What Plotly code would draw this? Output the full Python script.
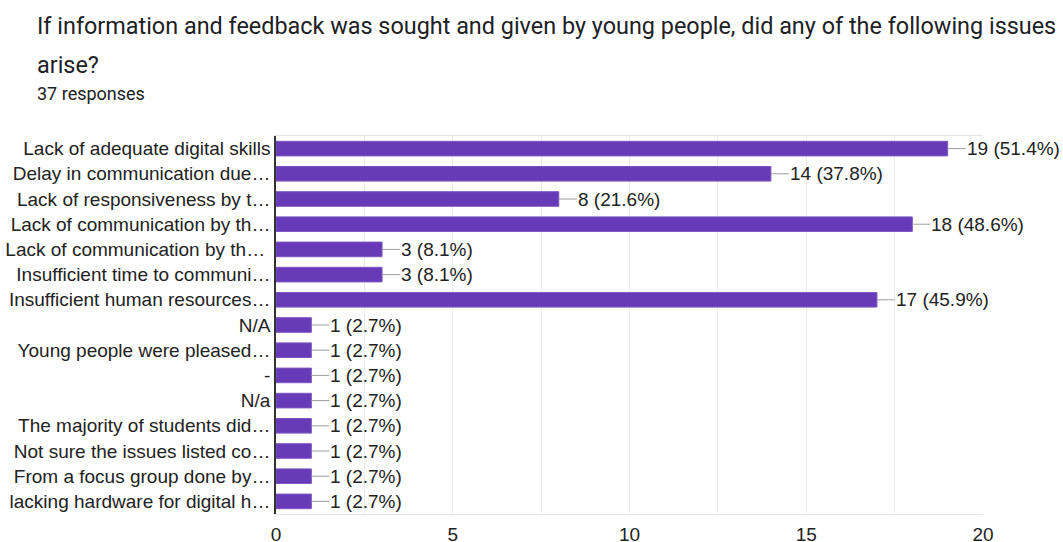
import plotly.graph_objects as go

categories = [
    "Lack of adequate digital skills",
    "Delay in communication due…",
    "Lack of responsiveness by t…",
    "Lack of communication by th…",
    "Lack of communication by th… ",
    "Insufficient time to communi…",
    "Insufficient human resources…",
    "N/A",
    "Young people were pleased…",
    "-",
    "N/a",
    "The majority of students did…",
    "Not sure the issues listed co…",
    "From a focus group done by…",
    "lacking hardware for digital h…",
]
counts = [19, 14, 8, 18, 3, 3, 17, 1, 1, 1, 1, 1, 1, 1, 1]
total_responses = 37
x_ticks = [0, 5, 10, 15, 20]

title_line1 = "If information and feedback was sought and given by young people, did any of the following issues"
title_line2 = "arise?"
subtitle = f"{total_responses} responses"

labels = [f"{c} ({c / total_responses * 100:.1f}%)" for c in counts]

W, H = 1063, 542
L, R, T, B = 276, 1063 - 983, 136, 542 - 514
pw, ph = W - L - R, H - T - B

fig = go.Figure()
fig.add_trace(go.Bar(
    x=counts,
    y=categories,
    orientation="h",
    marker=dict(color="#673ab7", line=dict(color="#7e57c2", width=1)),
    width=0.58,
    hoverinfo="skip",
))

annotations = []
for c, cat, lab in zip(counts, categories, labels):
    annotations.append(dict(
        x=c, y=cat, xref="x", yref="y",
        text=lab, showarrow=True, arrowhead=0, arrowwidth=1,
        arrowcolor="#9e9e9e", ax=18, ay=0, xanchor="left",
        font=dict(family="Liberation Sans, Arial", size=19, color="#222222"),
        borderpad=0,
    ))

for txt, ypix, size in [
    (title_line1, 26, 23.4),
    (title_line2, 65, 23.4),
    (subtitle, 94, 18),
]:
    xp = 36
    annotations.append(dict(
        x=(xp - L) / pw, y=1 - (ypix - T) / ph, xref="paper", yref="paper",
        xanchor="left", yanchor="middle", showarrow=False, text=txt,
        font=dict(family="Roboto, Noto Sans", size=size, color="#202124"),
        borderpad=0,
    ))

fig.update_layout(
    width=W, height=H,
    margin=dict(l=L, r=R, t=T, b=B, pad=0, autoexpand=False),
    paper_bgcolor="white", plot_bgcolor="white",
    showlegend=False,
    annotations=annotations,
    xaxis=dict(
        range=[0, 20], tickvals=x_ticks, ticktext=[str(v) for v in x_ticks],
        showgrid=True, gridcolor="#ebebeb", gridwidth=1,
        minor=dict(dtick=2.5, showgrid=True, gridcolor="#ebebeb", gridwidth=1),
        zeroline=False, showline=True, mirror=True, linecolor="#e6e6e6", linewidth=1,
        ticks="", ticklabelstandoff=3, automargin=False,
        tickfont=dict(family="Liberation Sans, Arial", size=19, color="#222222"),
        fixedrange=True,
    ),
    yaxis=dict(
        autorange="reversed", type="category",
        showgrid=False, zeroline=False,
        showline=True, linecolor="#333333", linewidth=1.5,
        ticks="", ticklabelstandoff=0, automargin=False,
        tickfont=dict(family="Liberation Sans, Arial", size=19, color="#222222"),
        fixedrange=True,
    ),
)

fig.write_html(
    "out.html",
    config={"displayModeBar": False},
    post_script="document.body.style.margin='0';document.body.style.overflow='hidden';",
)
